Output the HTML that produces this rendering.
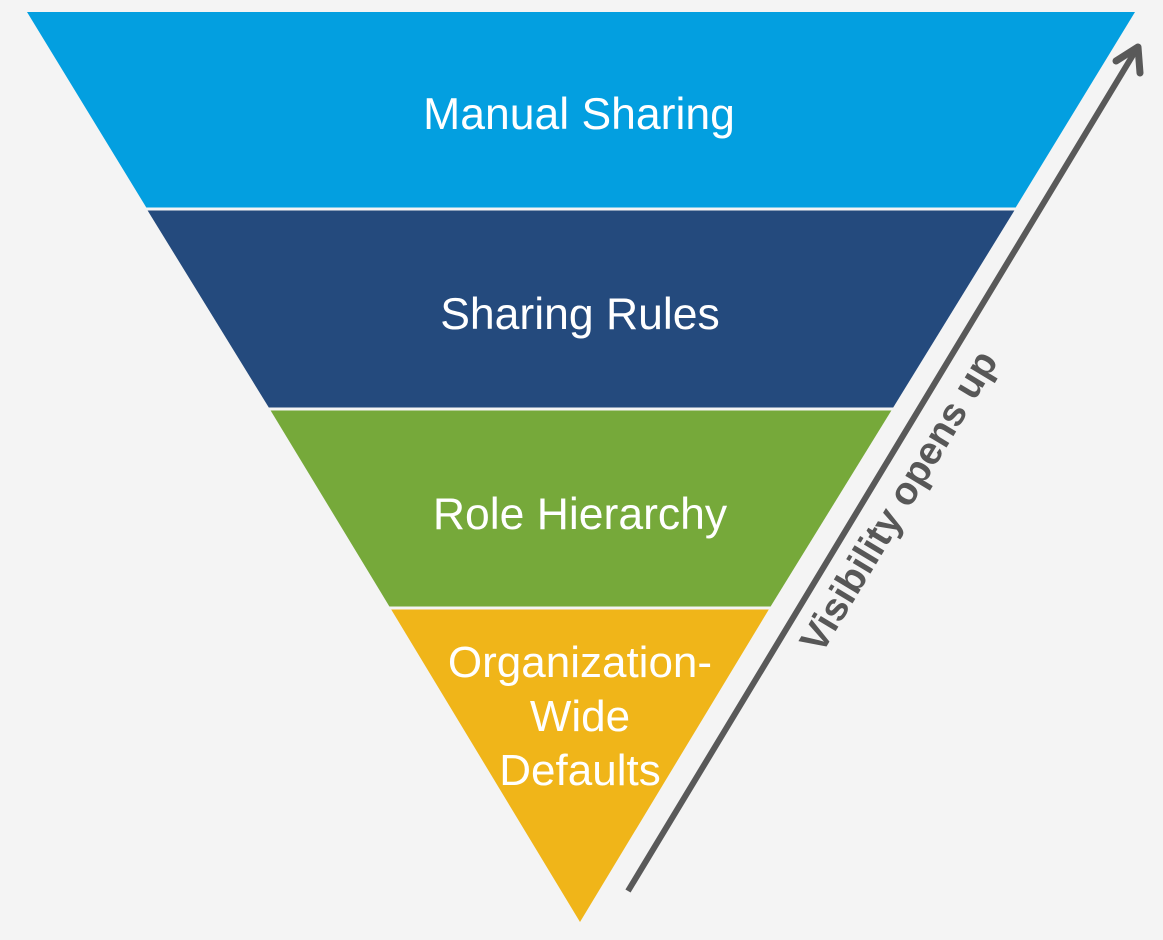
<!DOCTYPE html>
<html><head><style>
html,body{margin:0;padding:0;background:#f4f4f4;}
</style></head><body>
<svg width="1163" height="935" viewBox="0 0 1163 935" xmlns="http://www.w3.org/2000/svg">
<rect width="1163" height="935" fill="#f4f4f4"/>
<polygon points="27,12 1135,12 1015.7,207.5 146.3,207.5" fill="#039fe0"/>
<polygon points="147.6,210.5 1014.4,210.5 893.2,407.5 268.8,407.5" fill="#244a7d"/>
<polygon points="270.6,410.5 891.4,410.5 770.6,606.5 389.4,606.5" fill="#76a93a"/>
<polygon points="391.2,609.5 768.8,609.5 580,922" fill="#f0b519"/>
<g font-family="Liberation Sans, sans-serif" fill="#fff" text-anchor="middle" font-size="44.5">
<text x="579" y="129">Manual Sharing</text>
<text x="580" y="329">Sharing Rules</text>
<text x="580" y="529">Role Hierarchy</text>
<text x="580" y="677" font-size="44">Organization-</text>
<text x="580" y="731" font-size="44">Wide</text>
<text x="580" y="785" font-size="44">Defaults</text>
</g>
<line x1="628" y1="891" x2="1136" y2="50" stroke="#595959" stroke-width="6"/>
<polyline points="1116,61 1138,47 1140,73" fill="none" stroke="#595959" stroke-width="7" stroke-linecap="round" stroke-linejoin="round"/>
<text x="0" y="0" transform="translate(910,508) rotate(-58.9)" font-family="Liberation Sans, sans-serif" font-weight="bold" font-size="39" fill="#575757" text-anchor="middle">Visibility opens up</text>
</svg>
</body></html>
